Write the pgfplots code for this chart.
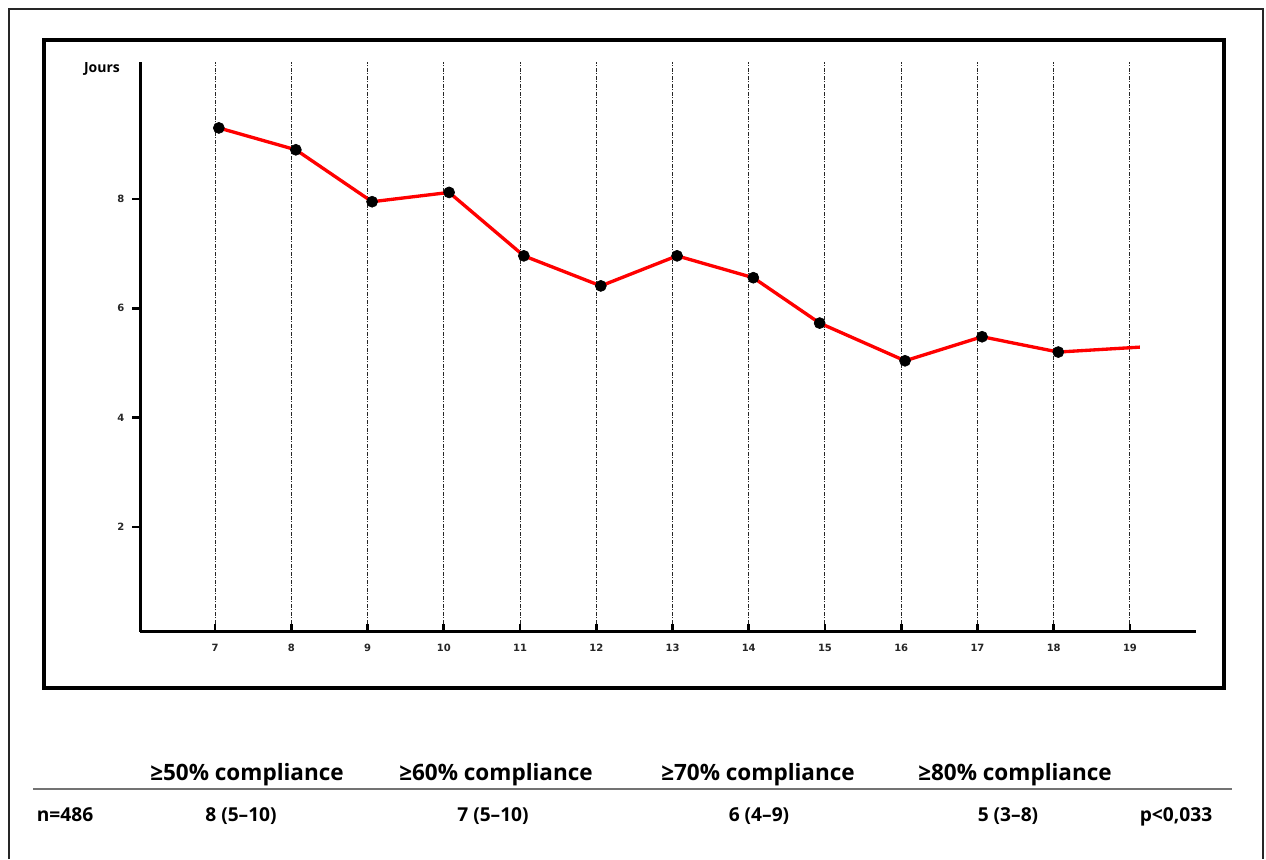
\documentclass[border=0pt]{standalone}
\usepackage{fontspec}
\setmainfont{Open Sans}
\newfontfamily\dejavu{DejaVu Sans}
\usepackage{pgfplots}
\pgfplotsset{compat=1.18}

\begin{document}
\begin{tikzpicture}[x=0.6pt,y=0.6pt]
\useasboundingbox (0,0) rectangle (1266,859);
\draw[line width=1.2pt, black!85] (9,0) -- (9,850) -- (1263,850) -- (1263,0);
\draw[line width=2.4pt] (44,171) rectangle (1224,819);
\coordinate (A) at (140,227);
\begin{axis}[at={(A)}, anchor=south west, scale only axis,
  width=633.6pt, height=342pt,
  xmin=6.016, xmax=19.866, ymin=0.079, ymax=10.506,
  axis lines=left, axis line style={-, line width=1.8pt},
  xtick={7,...,19}, ytick={2,4,6,8},
  xtick align=inside, ytick align=outside,
  major tick length=4.8pt,
  every major tick/.append style={line width=1.6pt, black},
  xmajorgrids, major grid style={dash pattern=on 2.4pt off 0.9pt on 0.6pt off 0.9pt, black!85, line width=0.6pt},
  /pgf/number format/assume math mode=true,
  tick label style={font=\dejavu\bfseries\fontsize{6}{7}\selectfont, text=black!85},
  xticklabel style={yshift=-3.5pt},
  yticklabel style={xshift=-1pt},
  clip=false]
\addplot[red, line width=2pt] coordinates {(7.05,9.30) (8.06,8.90) (9.06,7.95) (10.07,8.12) (11.05,6.96) (12.06,6.41) (13.06,6.96) (14.06,6.56) (14.93,5.73) (16.05,5.04) (17.06,5.48) (18.06,5.20) (19.13,5.29)};
\addplot[only marks, mark=*, mark size=3.3pt, black] coordinates {(7.05,9.30) (8.06,8.90) (9.06,7.95) (10.07,8.12) (11.05,6.96) (12.06,6.41) (13.06,6.96) (14.06,6.56) (14.93,5.73) (16.05,5.04) (17.06,5.48) (18.06,5.20)};
\end{axis}
\node[font=\bfseries\fontsize{8.4}{10}\selectfont] at (102,790) {Jours};
\draw[line width=1.2pt, black!55] (33,70) -- (1232,70);
\begin{scope}[every node/.style={font=\bfseries\fontsize{13.5}{16}\selectfont, anchor=base}]
\node at (247,78) {≥50\% compliance};
\node at (496,78) {≥60\% compliance};
\node at (758,78) {≥70\% compliance};
\node at (1015,78) {≥80\% compliance};
\end{scope}
\begin{scope}[every node/.style={font=\bfseries\fontsize{11.5}{14}\selectfont, anchor=base}]
\node[anchor=base west] at (31,38) {n=486};
\node at (241,38) {8 (5–10)};
\node at (493,38) {7 (5–10)};
\node at (759,38) {6 (4–9)};
\node at (1008,38) {5 (3–8)};
\node at (1176,38) {p<0,033};
\end{scope}
\end{tikzpicture}
\end{document}
